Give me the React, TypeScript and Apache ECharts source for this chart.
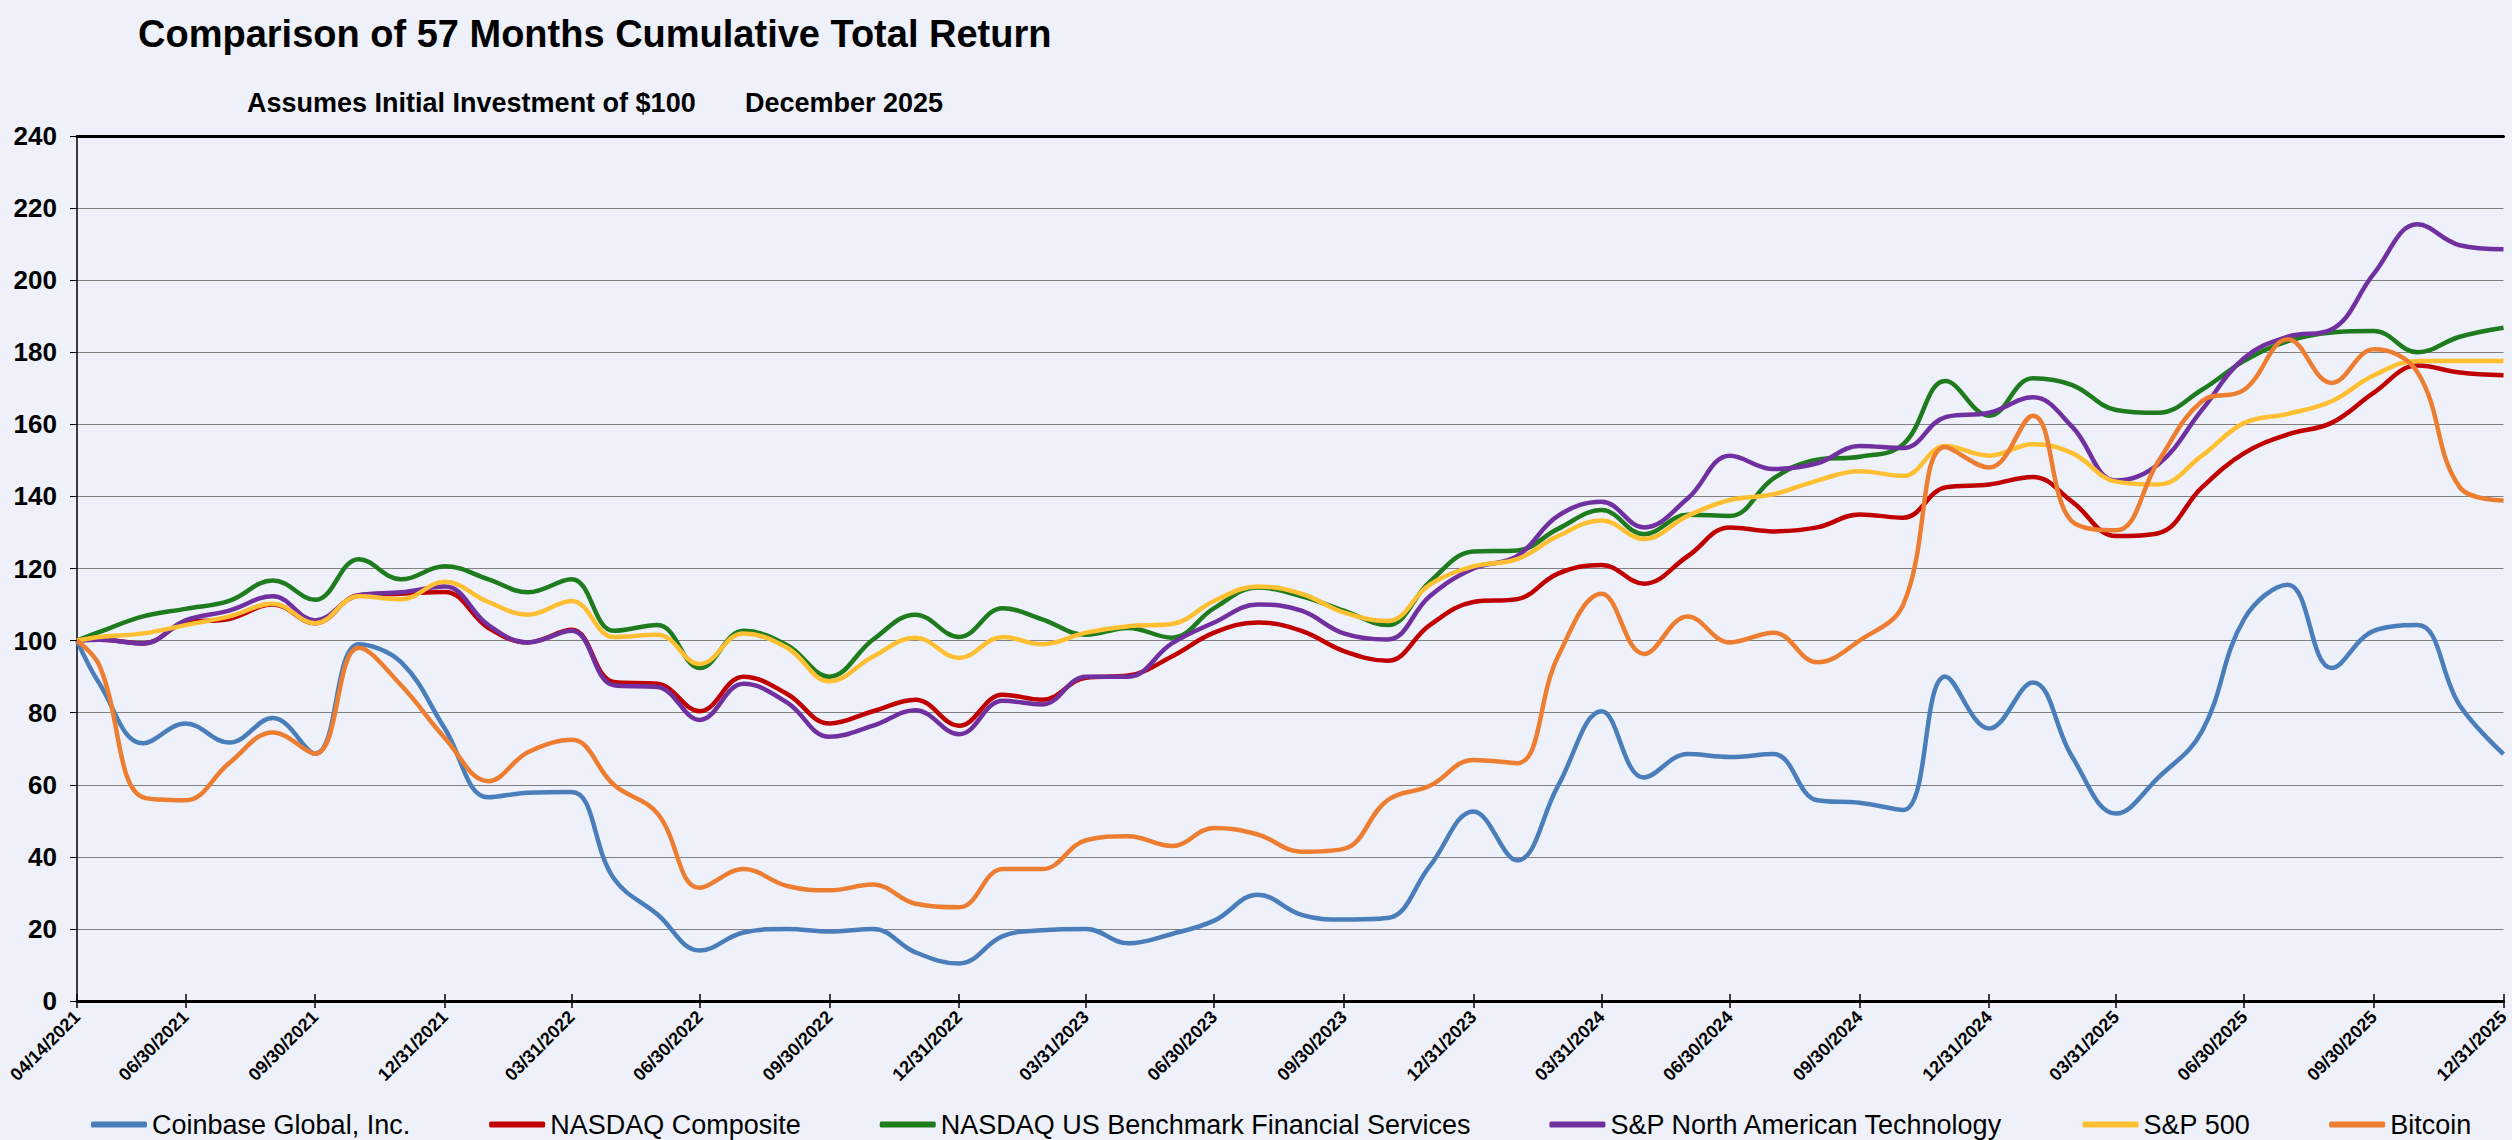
import { useEffect, useRef } from "react";
import * as echarts from "echarts";

// month-end observation dates (first point is the IPO date)
const dates = [
  "2021-04-14", "2021-04-30", "2021-05-31", "2021-06-30", "2021-07-31", "2021-08-31", "2021-09-30", "2021-10-31", "2021-11-30", "2021-12-31",
  "2022-01-31", "2022-02-28", "2022-03-31", "2022-04-30", "2022-05-31", "2022-06-30", "2022-07-31", "2022-08-31", "2022-09-30", "2022-10-31", "2022-11-30", "2022-12-31",
  "2023-01-31", "2023-02-28", "2023-03-31", "2023-04-30", "2023-05-31", "2023-06-30", "2023-07-31", "2023-08-31", "2023-09-30", "2023-10-31", "2023-11-30", "2023-12-31",
  "2024-01-31", "2024-02-29", "2024-03-31", "2024-04-30", "2024-05-31", "2024-06-30", "2024-07-31", "2024-08-31", "2024-09-30", "2024-10-31", "2024-11-30", "2024-12-31",
  "2025-01-31", "2025-02-28", "2025-03-31", "2025-04-30", "2025-05-31", "2025-06-30", "2025-07-31", "2025-08-31", "2025-09-30", "2025-10-31", "2025-11-30", "2025-12-31",
];

const tickDates = [
  "2021-04-14", "2021-06-30", "2021-09-30", "2021-12-31", "2022-03-31", "2022-06-30", "2022-09-30",
  "2022-12-31", "2023-03-31", "2023-06-30", "2023-09-30", "2023-12-31", "2024-03-31", "2024-06-30",
  "2024-09-30", "2024-12-31", "2025-03-31", "2025-06-30", "2025-09-30", "2025-12-31",
];

const coinbase = [
  100, 88, 71.5, 77, 71.7, 78.5, 68.6, 99, 94, 75.6,
  56.5, 57.8, 58, 34, 24, 14, 19, 20, 19.3, 20, 13.5, 10.4,
  18, 19.6, 20, 16, 18.6, 22.3, 29.5, 23.9, 22.6, 23, 37.4, 52.6,
  39, 59.7, 80.4, 62, 68.5, 67.7, 68.5, 55.7, 55, 53, 90, 75.6,
  88.4, 67.7, 52, 62, 74.8, 106, 115.5, 92.4, 102.7, 104.3, 82, 68.5,
];

const nasdaqComposite = [
  100, 100.3, 99.2, 105, 106, 110, 104.8, 112.6, 113, 113.5,
  103.5, 99.5, 103, 88.5, 88, 80.4, 90, 85.2, 77, 80.4, 83.6, 76.4,
  85, 83.6, 89.7, 90.3, 95.6, 102.2, 105, 102.7, 97.1, 94.4, 104.3, 110.7,
  111.5, 118.6, 121, 115.8, 123.4, 131.4, 130.3, 131.4, 135, 134.1, 142.5, 143.3,
  145.4, 138.5, 129, 129.8, 142.5, 152, 157.2, 160.4, 168.8, 176.3, 174.4, 173.6,
];

const nasdaqFinancials = [
  100, 102.4, 106.7, 108.8, 111, 116.7, 111.3, 122.6, 117, 120.6,
  117, 113.4, 117, 102.7, 104.3, 92.4, 102.7, 98.7, 90, 100.3, 107.2, 101,
  109, 105.9, 101.6, 103.5, 100.8, 109, 114.7, 112.3, 108.3, 104.3, 116.3, 124.7,
  125, 131, 136.2, 129.5, 134.9, 134.6, 145, 150.2, 151, 154.5, 172, 162.4,
  172.8, 170.9, 164, 163.2, 169.6, 177.6, 183.1, 185.5, 185.9, 180, 184.3, 186.8,
];

const spTech = [
  100, 100.2, 99.2, 105.6, 108.3, 112.3, 105.6, 112.6, 113.4, 115,
  104.3, 99.5, 102.7, 87.6, 87.1, 78, 88, 82.8, 73.3, 76.4, 80.7, 74,
  83.3, 82.3, 90, 90, 99.2, 105, 110, 108.3, 102, 100.3, 112.3, 120,
  123.4, 134.6, 138.5, 131.4, 139.4, 151.3, 147.6, 149.2, 154, 153.4, 162, 163.2,
  167.5, 159.3, 144.4, 148.9, 164, 178.4, 184.3, 186.3, 201.8, 215.5, 209.7, 208.6,
];

const sp500 = [
  100, 101, 102, 104.3, 106.7, 110.2, 104.8, 112.3, 111.5, 116.3,
  110.7, 107.2, 111, 101, 101.6, 93.5, 102, 98, 88.7, 95.6, 100.8, 95.2,
  101, 99, 102.2, 104, 104.6, 111, 115, 113, 107.8, 105.4, 115.5, 120.6,
  122.6, 129, 133.3, 128.2, 134.6, 139, 140.6, 144.4, 147, 145.7, 154, 151.3,
  154.5, 152, 144.1, 143.3, 151.3, 160.4, 162.9, 166.4, 173.6, 177.6, 177.6, 177.6,
];

const bitcoin = [
  100, 93, 56.5, 55.7, 66, 74.5, 68.6, 98, 87.6, 73,
  61, 69, 72.5, 60, 52, 31.4, 36.6, 31.9, 30.7, 32.3, 27, 26,
  36.6, 36.6, 44.6, 45.7, 43, 48, 46.2, 41.4, 42.2, 55.7, 59.7, 66.9,
  66, 95.6, 113, 96.3, 106.7, 99.5, 102.2, 94, 100, 110, 153.7, 148,
  162.4, 133, 130.6, 149.7, 166.4, 169.6, 183.6, 171.5, 180.8, 174.4, 142.5, 138.9,
];

const seriesList = [
  { name: "Coinbase Global, Inc.", data: coinbase, color: "#4A7EBB" },
  { name: "NASDAQ Composite", data: nasdaqComposite, color: "#C00000" },
  { name: "NASDAQ US Benchmark Financial Services", data: nasdaqFinancials, color: "#1E7B1E" },
  { name: "S&P North American Technology", data: spTech, color: "#7030A0" },
  { name: "S&P 500", data: sp500, color: "#FFBF33" },
  { name: "Bitcoin", data: bitcoin, color: "#ED7D31" },
];

const BG = "#EEF1F9";
const FONT = "'Liberation Sans', Arial, sans-serif";

const ts = (s: string) => Date.UTC(+s.slice(0, 4), +s.slice(5, 7) - 1, +s.slice(8, 10));
const pad = (n: number) => (n < 10 ? "0" + n : "" + n);
const fmtDate = (v: number) => {
  const d = new Date(v);
  return pad(d.getUTCMonth() + 1) + "/" + pad(d.getUTCDate()) + "/" + d.getUTCFullYear();
};

const ReturnChart = () => {
  const chartRef = useRef<HTMLDivElement>(null);

  useEffect(() => {
    if (!chartRef.current) return;
    const chart = echarts.init(chartRef.current, undefined, { renderer: "svg" });

    const xs = dates.map(ts);
    const ticks = tickDates.map(ts);
    const xMin = ticks[0];
    const xMax = ticks[ticks.length - 1];

    const option = {
      animation: false,
      backgroundColor: BG,
      title: [
        {
          text: "Comparison of 57 Months Cumulative Total Return",
          left: 133,
          top: 10,
          textStyle: { fontFamily: FONT, fontSize: 38, fontWeight: "bold", color: "#000" },
        },
        {
          text: "Assumes Initial Investment of $100",
          left: 242,
          top: 84,
          textStyle: { fontFamily: FONT, fontSize: 27, fontWeight: "bold", color: "#000" },
        },
        {
          text: "December 2025",
          left: 740,
          top: 84,
          textStyle: { fontFamily: FONT, fontSize: 27, fontWeight: "bold", color: "#000" },
        },
      ],
      legend: {
        left: 86,
        top: 1106,
        icon: "roundRect",
        itemWidth: 56,
        itemHeight: 6,
        itemGap: 79,
        textStyle: { fontFamily: FONT, fontSize: 27, color: "#000" },
        data: seriesList.map((s) => s.name),
      },
      grid: { left: 77, right: 4, top: 136, bottom: 139 },
      xAxis: [
        {
          type: "value",
          min: xMin,
          max: xMax,
          position: "bottom",
          splitLine: { show: false },
          axisLine: { show: true, lineStyle: { color: "#000", width: 3 } },
          axisTick: { show: true, customValues: ticks, length: 7, lineStyle: { color: "#000", width: 1.5 } },
          axisLabel: {
            customValues: ticks,
            formatter: fmtDate,
            rotate: 45,
            margin: 13,
            fontFamily: FONT,
            fontSize: 18,
            fontWeight: "bold",
            color: "#000",
          },
        },
        {
          type: "value",
          min: xMin,
          max: xMax,
          position: "bottom",
          splitLine: { show: false },
          axisLine: { show: false },
          axisTick: { show: true, inside: true, customValues: ticks, length: 7, lineStyle: { color: "#000", width: 1.5 } },
          axisLabel: { show: false },
        },
        {
          type: "value",
          min: xMin,
          max: xMax,
          position: "top",
          splitLine: { show: false },
          axisLine: { show: true, lineStyle: { color: "#000", width: 3 } },
          axisTick: { show: false },
          axisLabel: { show: false },
        },
      ],
      yAxis: {
        type: "value",
        min: 0,
        max: 240,
        interval: 20,
        axisLine: { show: true, lineStyle: { color: "#000", width: 1.5 } },
        axisTick: { show: true, length: 7, lineStyle: { color: "#000", width: 1 } },
        axisLabel: { margin: 20, fontFamily: FONT, fontSize: 26, fontWeight: "bold", color: "#000" },
        splitLine: { show: true, lineStyle: { color: "#808080", width: 1 } },
      },
      series: seriesList.map((s) => ({
        name: s.name,
        type: "line",
        xAxisIndex: 0,
        smooth: 0.4,
        showSymbol: false,
        symbol: "none",
        data: s.data.map((v, i) => [xs[i], v]),
        lineStyle: { color: s.color, width: 4.5 },
        itemStyle: { color: s.color },
      })),
    };

    chart.setOption(option);

    const handleResize = () => chart.resize();
    window.addEventListener("resize", handleResize);
    return () => {
      window.removeEventListener("resize", handleResize);
      chart.dispose();
    };
  }, []);

  return <div ref={chartRef} style={{ width: "100%", height: "100%" }} />;
};

const App = () => (
  <div style={{ position: "fixed", left: 0, top: 0, width: 2512, height: 1140, background: BG }}>
    <ReturnChart />
  </div>
);

export default App;
